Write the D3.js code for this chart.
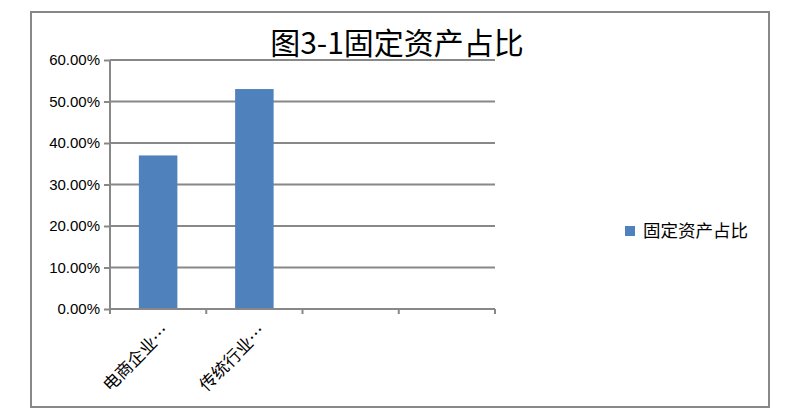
<!DOCTYPE html>
<html>
<head>
<meta charset="utf-8">
<script src="https://cdn.jsdelivr.net/npm/d3@7"></script>
<style>
  body { margin: 0; background: #fff; }
</style>
</head>
<body>
<div id="chart"></div>
<script>
// chart data
const categories = ["电商企业…", "传统行业…", "", " "];
const values = [0.37, 0.53, null, null];
const yTicks = [0, 0.1, 0.2, 0.3, 0.4, 0.5, 0.6];
const seriesName = "固定资产占比";
const title = "图3-1固定资产占比";

const width = 786, height = 420;
const margin = { top: 60, right: 291, bottom: 111, left: 110 };

const svg = d3.select("#chart")
    .append("svg")
    .attr("width", width)
    .attr("height", height);

// outer frame
svg.append("rect")
    .attr("x", 31).attr("y", 12)
    .attr("width", 738).attr("height", 395)
    .attr("fill", "white")
    .attr("stroke", "#888")
    .attr("stroke-width", 2);

const xScale = d3.scaleBand()
    .domain(categories)
    .range([margin.left, width - margin.right])
    .padding(0);

const yScale = d3.scaleLinear()
    .domain([0, 0.6])
    .range([height - margin.bottom, margin.top]);

// gridlines
svg.append("g")
    .selectAll("line")
    .data(yTicks.slice(1))
    .enter().append("line")
    .attr("x1", margin.left).attr("x2", width - margin.right)
    .attr("y1", d => yScale(d)).attr("y2", d => yScale(d))
    .attr("stroke", "#888")
    .attr("stroke-width", 2);

// bars
const barW = xScale.bandwidth() * 0.4;
svg.append("g")
    .selectAll("rect")
    .data(values.map((v, i) => ({ c: categories[i], v })).filter(d => d.v != null))
    .enter().append("rect")
    .attr("x", d => xScale(d.c) + (xScale.bandwidth() - barW) / 2)
    .attr("y", d => yScale(d.v))
    .attr("width", barW)
    .attr("height", d => yScale(0) - yScale(d.v))
    .attr("fill", "#4f81bd");

// y axis
const yAxis = svg.append("g")
    .attr("transform", `translate(${margin.left},0)`)
    .call(d3.axisLeft(yScale).tickValues(yTicks).tickFormat(d3.format(".2%")).tickSize(6).tickPadding(4));
yAxis.selectAll("line, path").attr("stroke", "#888").attr("stroke-width", 2);
yAxis.select("path").attr("d", `M0,${yScale(0.6)}V${yScale(0)}`);
yAxis.selectAll("text")
    .style("font-family", "'Liberation Sans', sans-serif")
    .style("font-size", "15px")
    .attr("fill", "#000");

// x axis
const xAxis = svg.append("g")
    .attr("transform", `translate(0,${yScale(0)})`);
xAxis.append("line")
    .attr("x1", margin.left).attr("x2", width - margin.right)
    .attr("stroke", "#888").attr("stroke-width", 2);
const edges = categories.map(c => xScale(c)).concat([width - margin.right]);
xAxis.selectAll(".tk")
    .data(edges)
    .enter().append("line")
    .attr("x1", d => d).attr("x2", d => d)
    .attr("y1", 0).attr("y2", 5)
    .attr("stroke", "#888").attr("stroke-width", 2);
xAxis.selectAll(".lbl")
    .data(categories.filter(c => c.trim() !== ""))
    .enter().append("text")
    .attr("transform", d => `translate(${xScale(d) + xScale.bandwidth() / 2 + 8},${19}) rotate(-45)`)
    .attr("text-anchor", "end")
    .attr("dy", "0.35em")
    .style("font-family", "'Noto Sans CJK SC', sans-serif")
    .style("font-size", "17px")
    .attr("fill", "#000")
    .text(d => d);

// title
svg.append("text")
    .attr("x", 397).attr("y", 54)
    .attr("text-anchor", "middle")
    .style("font-family", "'Noto Sans CJK SC', sans-serif")
    .style("font-size", "30px")
    .attr("fill", "#000")
    .text(title);

// legend
const legend = svg.append("g").attr("transform", "translate(625,231)");
legend.append("rect")
    .attr("x", 0).attr("y", -5)
    .attr("width", 10).attr("height", 10)
    .attr("fill", "#4f81bd");
legend.append("text")
    .attr("x", 18).attr("y", 0)
    .attr("dy", "0.35em")
    .style("font-family", "'Noto Sans CJK SC', sans-serif")
    .style("font-size", "17.5px")
    .attr("fill", "#000")
    .text(seriesName);
</script>
</body>
</html>
